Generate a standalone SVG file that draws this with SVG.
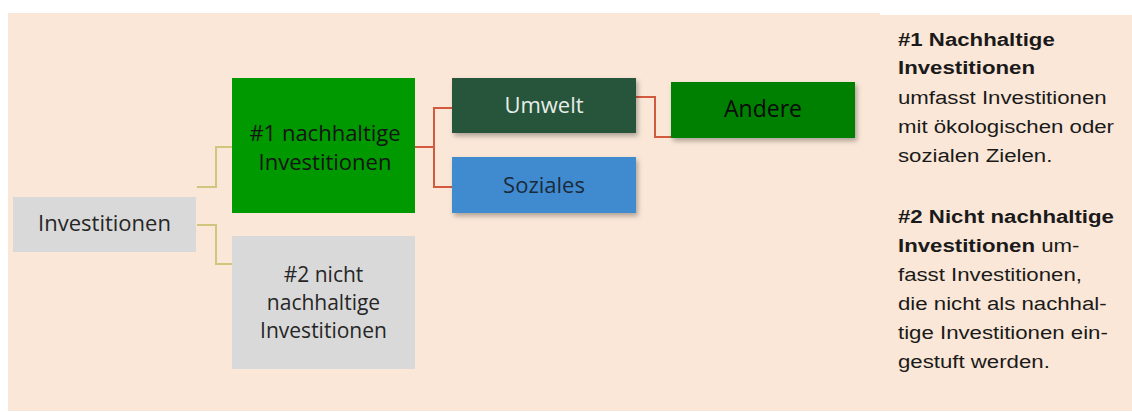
<svg xmlns="http://www.w3.org/2000/svg" width="1132" height="412" viewBox="0 0 1132 412">
<style>
.lbl{font-family:"Open Sans","Noto Sans",sans-serif;font-size:22px;text-anchor:middle}
.side{font-family:"Liberation Sans",Arial,sans-serif;font-size:19px;fill:#1a1a1a}
.b{font-weight:bold}
.olive{fill:none;stroke:#d2c67f;stroke-width:2}
.red{fill:none;stroke:#d35a3e;stroke-width:2}
</style>
<defs>
<filter id="sh" x="-10%" y="-20%" width="130%" height="160%">
<feDropShadow dx="2" dy="3" stdDeviation="2.5" flood-color="#000" flood-opacity="0.3"/>
</filter>
</defs>
<rect x="0" y="0" width="1132" height="412" fill="#ffffff"/>
<rect x="8" y="13" width="872" height="398" fill="#fae7d7"/>
<rect x="878" y="15" width="254" height="396" fill="#fae7d7"/>
<g id="connectors">
<polyline class="olive" points="197,187 216,187 216,147 232,147"/>
<polyline class="olive" points="197,225 216,225 216,264 232,264"/>
<polyline class="red" points="415,147 434,147"/>
<polyline class="red" points="452,108 434,108 434,187 452,187"/>
<polyline class="red" points="636,97 655,97 655,137 671,137"/>
</g>
<g id="n-investitionen">
<rect x="13" y="197" width="183" height="55" fill="#d9d9d9"/>
<text class="lbl" x="104.5" y="231" fill="#262626">Investitionen</text>
</g>
<g id="n-nachhaltig">
<rect x="232" y="78" width="183" height="135" fill="#009900"/>
<text class="lbl" x="325" y="141" fill="#141414">#1 nachhaltige</text>
<text class="lbl" x="325" y="170" fill="#141414">Investitionen</text>
</g>
<g id="n-nicht">
<rect x="232" y="236" width="183" height="133" fill="#d9d9d9"/>
<text class="lbl" x="323.5" y="282" fill="#262626" style="font-size:21px">#2 nicht</text>
<text class="lbl" x="323.5" y="310" fill="#262626" style="font-size:21px">nachhaltige</text>
<text class="lbl" x="323.5" y="338" fill="#262626" style="font-size:21px">Investitionen</text>
</g>
<g id="n-umwelt">
<rect x="452" y="78" width="184" height="55" fill="#25553a" filter="url(#sh)"/>
<text class="lbl" x="544" y="113" fill="#e8ede9">Umwelt</text>
</g>
<g id="n-soziales">
<rect x="452" y="157" width="184" height="56" fill="#3f8bd0" filter="url(#sh)"/>
<text class="lbl" x="544" y="193" fill="#1b2a3a">Soziales</text>
</g>
<g id="n-andere">
<rect x="671" y="82" width="184" height="56" fill="#008000" filter="url(#sh)"/>
<text class="lbl" x="763" y="117" fill="#0a0a0a" style="font-size:23px">Andere</text>
</g>
<g id="legend" transform="translate(898,0) scale(1.17,1)">
<text class="side b" x="0" y="46">#1 Nachhaltige</text>
<text class="side b" x="0" y="74">Investitionen</text>
<text class="side" x="0" y="104">umfasst Investitionen</text>
<text class="side" x="0" y="133">mit ökologischen oder</text>
<text class="side" x="0" y="162">sozialen Zielen.</text>
<text class="side" x="0" y="223"><tspan class="b">#2 Nicht nachhaltige</tspan></text>
<text class="side" x="0" y="252"><tspan class="b">Investitionen</tspan> um-</text>
<text class="side" x="0" y="281">fasst Investitionen,</text>
<text class="side" x="0" y="310">die nicht als nachhal-</text>
<text class="side" x="0" y="339">tige Investitionen ein-</text>
<text class="side" x="0" y="368">gestuft werden.</text>
</g>
</svg>
